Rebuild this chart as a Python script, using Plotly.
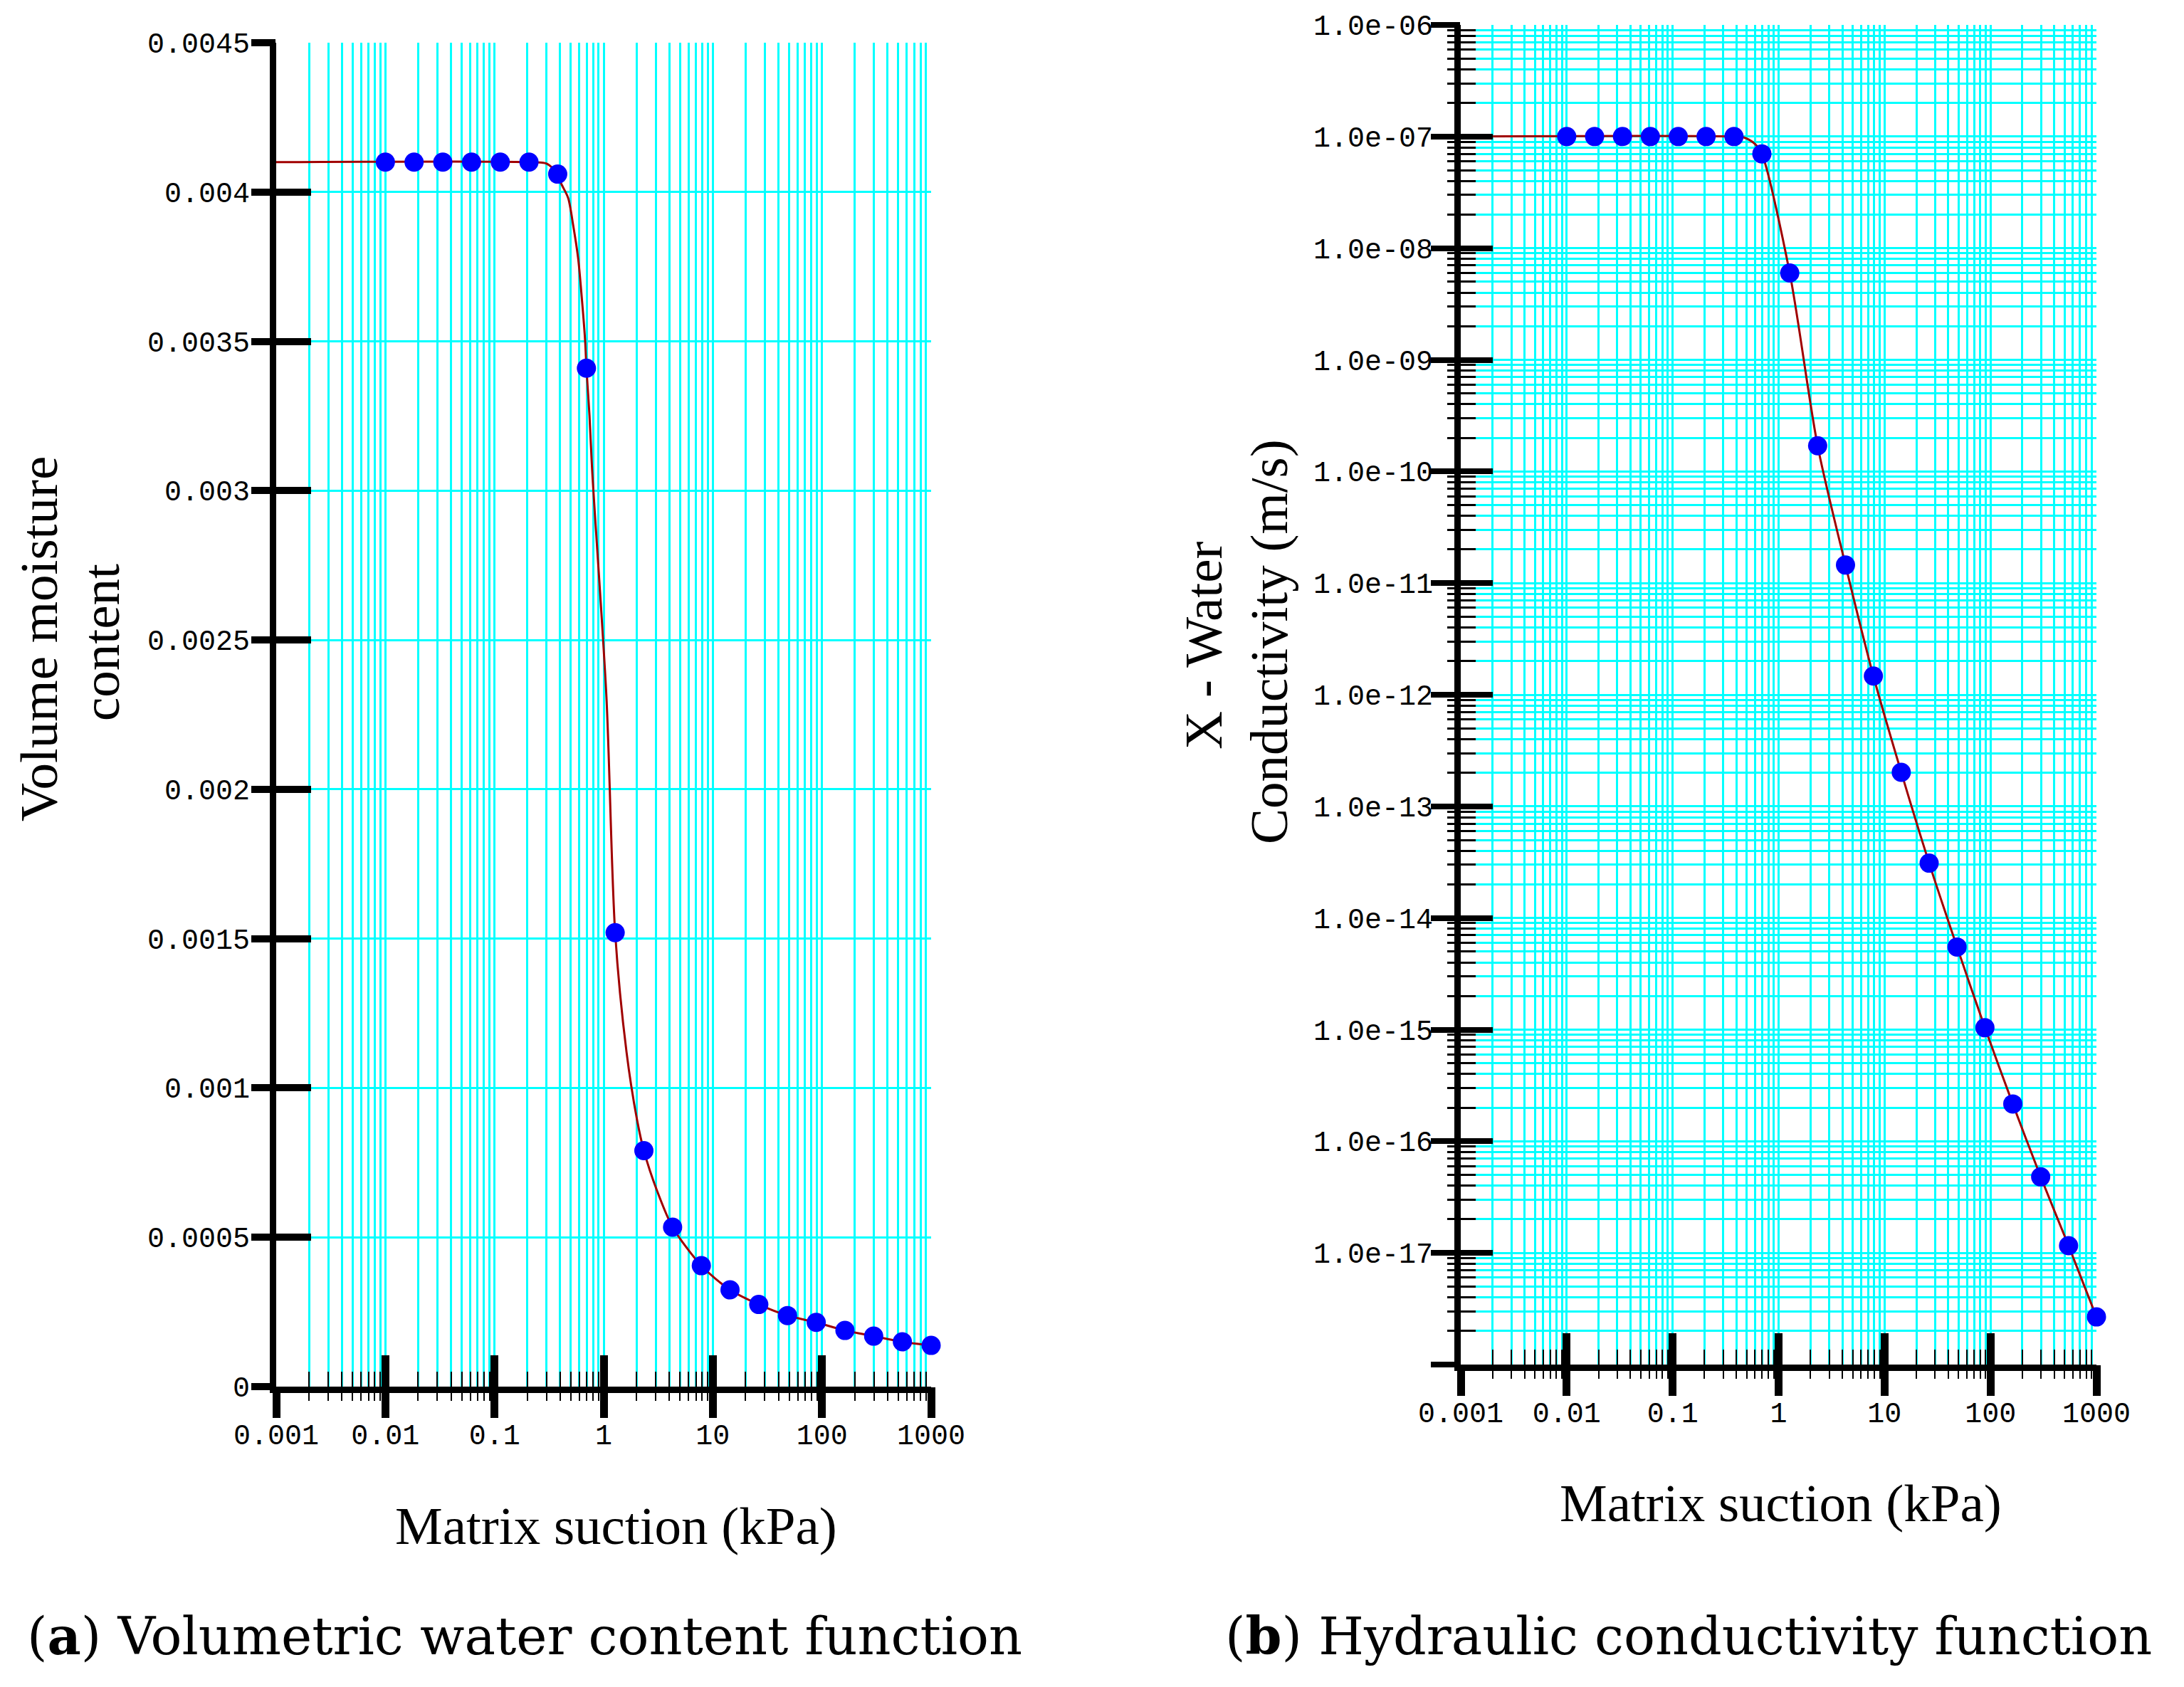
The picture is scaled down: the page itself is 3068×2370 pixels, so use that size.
import plotly.graph_objects as go

# ---------------- data ----------------
suction = [0.01, 0.01833, 0.0336, 0.06158, 0.1129, 0.2069, 0.3793, 0.6952, 1.274, 2.336,
           4.281, 7.848, 14.38, 26.37, 48.33, 88.59, 162.4, 297.6, 545.6, 1000]

vwc = [0.0041, 0.0041, 0.0041, 0.0041, 0.0041, 0.0041, 0.00406, 0.00341, 0.00152, 0.00079,
       0.000534, 0.000405, 0.000324, 0.000275, 0.000238, 0.000215, 0.000188, 0.000169, 0.00015, 0.000138]

conductivity = [1.0e-7, 1.0e-7, 1.0e-7, 1.0e-7, 1.0e-7, 1.0e-7, 1.0e-7, 7.0e-8, 6.0e-9, 1.7e-10,
                1.45e-11, 1.47e-12, 2.02e-13, 3.1e-14, 5.5e-15, 1.04e-15, 2.16e-16, 4.8e-17, 1.16e-17, 2.67e-18]

# fitted curves
vwc_curve_x = [0.001, 0.2069, 0.3, 0.3793, 0.406, 0.473, 0.525, 0.583, 0.629, 0.677, 0.6952, 0.742,
               0.787, 1.06, 1.274, 1.62, 2.03, 2.336, 3.09, 4.281, 7.848, 14.38, 26.37,
               48.33, 88.59, 162.4, 297.6, 545.6, 1000]
vwc_curve_y = [0.0041, 0.0041, 0.004095, 0.00406, 0.00403, 0.00398, 0.00389, 0.00378, 0.00365, 0.0035,
               0.00341, 0.00325, 0.00306, 0.00231, 0.00152, 0.00112, 0.00089, 0.00079, 0.000655,
               0.000534, 0.000405, 0.000324, 0.000275, 0.000238, 0.000215, 0.000188, 0.000169, 0.00015, 0.000138]

cond_curve_x = [0.001, 0.3793, 0.473, 0.597, 0.6952, 1.274, 2.336, 4.281, 7.848, 14.38, 26.37,
                48.33, 88.59, 162.4, 297.6, 545.6, 1000]
cond_curve_y = [1.0e-7, 1.0e-7, 9.8e-8, 8.6e-8, 7.0e-8, 6.0e-9, 1.7e-10, 1.45e-11, 1.47e-12, 2.02e-13,
                3.1e-14, 5.5e-15, 1.04e-15, 2.16e-16, 4.8e-17, 1.16e-17, 2.67e-18]

# tick labels
x_tick_vals = [0.001, 0.01, 0.1, 1, 10, 100, 1000]
x_tick_labels = ["0.001", "0.01", "0.1", "1", "10", "100", "1000"]
vwc_tick_vals = [0, 0.0005, 0.001, 0.0015, 0.002, 0.0025, 0.003, 0.0035, 0.004, 0.0045]
vwc_tick_labels = ["0", "0.0005", "0.001", "0.0015", "0.002", "0.0025", "0.003", "0.0035", "0.004", "0.0045"]
cond_tick_vals = [1e-17, 1e-16, 1e-15, 1e-14, 1e-13, 1e-12, 1e-11, 1e-10, 1e-9, 1e-8, 1e-7, 1e-6]
cond_tick_labels = ["1.0e-17", "1.0e-16", "1.0e-15", "1.0e-14", "1.0e-13", "1.0e-12", "1.0e-11",
                    "1.0e-10", "1.0e-09", "1.0e-08", "1.0e-07", "1.0e-06"]

# ---------------- styling ----------------
OFF = 8                      # default page margin of the html body
FW, FH = 3068 - 2 * OFF, 2370 - 2 * OFF


def px(x):
    return (x - OFF) / FW


def py(y):
    return 1 - (y - OFF) / FH


GRID = "#00FFFF"
LINE_RED = "#A00000"
DOT_BLUE = "#0000FF"
TICKFONT = dict(family="Liberation Mono", size=40, color="black")
TITLEFONT = dict(family="Liberation Serif", size=75, color="black")
CAPFONT = dict(family="DejaVu Serif", size=73, color="black")

LEFT_X = [px(388), px(1308)]
LEFT_Y = [py(1948), py(60)]
RIGHT_X = [px(2052), px(2945)]
RIGHT_Y = [py(1917), py(35)]

fig = go.Figure()

fig.add_trace(go.Scatter(x=vwc_curve_x, y=vwc_curve_y, mode="lines",
                         line=dict(color=LINE_RED, width=3, shape="spline", smoothing=0.8),
                         xaxis="x", yaxis="y", showlegend=False, cliponaxis=False))
fig.add_trace(go.Scatter(x=suction, y=vwc, mode="markers",
                         marker=dict(color=DOT_BLUE, size=27, line=dict(width=0)),
                         xaxis="x", yaxis="y", showlegend=False, cliponaxis=False))
fig.add_trace(go.Scatter(x=cond_curve_x, y=cond_curve_y, mode="lines",
                         line=dict(color=LINE_RED, width=3, shape="spline", smoothing=0.8),
                         xaxis="x2", yaxis="y2", showlegend=False, cliponaxis=False))
fig.add_trace(go.Scatter(x=suction, y=conductivity, mode="markers",
                         marker=dict(color=DOT_BLUE, size=27, line=dict(width=0)),
                         xaxis="x2", yaxis="y2", showlegend=False, cliponaxis=False))

# invisible carriers so that the overlaid tick axes get drawn
for xa, ya, yy in [("x3", "y3", vwc), ("x5", "y5", vwc),
                   ("x4", "y4", conductivity), ("x6", "y6", conductivity)]:
    fig.add_trace(go.Scatter(x=suction, y=yy, mode="markers", marker=dict(opacity=0, size=1),
                             xaxis=xa, yaxis=ya, showlegend=False, hoverinfo="skip"))


def main_log_x(domain, anchor):
    return dict(type="log", range=[-3, 3], domain=domain, anchor=anchor,
                tickmode="linear", tick0=0, dtick=1,
                ticks="inside", ticklen=44, tickwidth=11, tickcolor="black",
                showticklabels=False, automargin=False,
                showgrid=True, gridcolor=GRID, gridwidth=3,
                minor=dict(dtick="D1", ticks="inside", ticklen=21, tickwidth=2, tickcolor="black",
                           showgrid=True, gridcolor=GRID, gridwidth=3),
                showline=True, linecolor="black", linewidth=9, zeroline=False)


def label_log_x(over, anchor):
    return dict(type="log", range=[-3, 3], overlaying=over, anchor=anchor,
                tickmode="array", tickvals=x_tick_vals, ticktext=x_tick_labels,
                ticks="outside", ticklen=32, tickwidth=3, tickcolor="black", automargin=False,
                tickfont=TICKFONT, showgrid=False, showline=False, zeroline=False)


def minor_log_x(over, anchor):
    return dict(type="log", range=[-3, 3], overlaying=over, anchor=anchor,
                tickmode="linear", tick0=0, dtick=1,
                ticks="outside", ticklen=43, tickwidth=11, tickcolor="black", automargin=False,
                minor=dict(dtick="D1", ticks="outside", ticklen=19, tickwidth=2, tickcolor="black",
                           showgrid=False),
                showticklabels=False, showgrid=False, showline=False, zeroline=False)


layout_axes = dict(
    xaxis=main_log_x(LEFT_X, "y"),
    xaxis3=label_log_x("x", "y"),
    xaxis5=minor_log_x("x", "y"),
    xaxis2=main_log_x(RIGHT_X, "y2"),
    xaxis4=label_log_x("x2", "y2"),
    xaxis6=minor_log_x("x2", "y2"),
    yaxis=dict(range=[0, 0.0045], domain=LEFT_Y, anchor="x",
               tickmode="linear", tick0=0, dtick=0.0005,
               ticks="inside", ticklen=49, tickwidth=10, tickcolor="black", automargin=False,
               showticklabels=False, showgrid=True, gridcolor=GRID, gridwidth=3,
               showline=True, linecolor="black", linewidth=9, zeroline=False),
    yaxis3=dict(range=[0, 0.0045], overlaying="y", anchor="x",
                tickmode="array", tickvals=vwc_tick_vals, ticktext=vwc_tick_labels,
                ticks="outside", ticklen=28, tickwidth=3, tickcolor="black", automargin=False,
                tickfont=TICKFONT, showgrid=False, showline=False, zeroline=False),
    yaxis5=dict(range=[0, 0.0045], overlaying="y", anchor="x",
                tickmode="linear", tick0=0, dtick=0.0005,
                ticks="outside", ticklen=34, tickwidth=10, tickcolor="black", automargin=False,
                showticklabels=False, showgrid=False, showline=False, zeroline=False),
    yaxis2=dict(type="log", range=[-18, -6], domain=RIGHT_Y, anchor="x2",
                tickmode="linear", tick0=0, dtick=1,
                ticks="inside", ticklen=45, tickwidth=8, tickcolor="black", automargin=False,
                showticklabels=False, showgrid=True, gridcolor=GRID, gridwidth=3,
                minor=dict(dtick="D1", ticks="inside", ticklen=21, tickwidth=3, tickcolor="black",
                           showgrid=True, gridcolor=GRID, gridwidth=3),
                showline=True, linecolor="black", linewidth=9, zeroline=False),
    yaxis4=dict(type="log", range=[-18, -6], overlaying="y2", anchor="x2",
                tickmode="array", tickvals=cond_tick_vals, ticktext=cond_tick_labels,
                ticks="outside", ticklen=30, tickwidth=3, tickcolor="black", automargin=False,
                tickfont=TICKFONT, showgrid=False, showline=False, zeroline=False),
    yaxis6=dict(type="log", range=[-18, -6], overlaying="y2", anchor="x2",
                tickmode="linear", tick0=0, dtick=1,
                ticks="outside", ticklen=41, tickwidth=8, tickcolor="black", automargin=False,
                minor=dict(dtick="D1", ticks="outside", ticklen=18, tickwidth=3, tickcolor="black",
                           showgrid=False),
                showticklabels=False, showgrid=False, showline=False, zeroline=False),
)

annotations = [
    dict(text="Volume moisture", x=px(55), y=py(898), textangle=-90, font=TITLEFONT),
    dict(text="content", x=px(142), y=py(903), textangle=-90, font=TITLEFONT),
    dict(text="X - Water", x=px(1690), y=py(907), textangle=-90, font=TITLEFONT),
    dict(text="Conductivity (m/s)", x=px(1782), y=py(902), textangle=-90, font=TITLEFONT),
    dict(text="Matrix suction (kPa)", x=px(865), y=py(2143), font=TITLEFONT),
    dict(text="Matrix suction (kPa)", x=px(2501), y=py(2111), font=TITLEFONT),
    dict(text="(<b>a</b>) Volumetric water content function", x=px(737), y=py(2298),
         font=CAPFONT),
    dict(text="(<b>b</b>) Hydraulic conductivity function", x=px(2372), y=py(2298),
         font=CAPFONT),
]
for a in annotations:
    a.update(xref="paper", yref="paper", showarrow=False, xanchor="center", yanchor="middle")

fig.update_layout(
    width=FW, height=FH, autosize=False,
    margin=dict(l=0, r=0, t=0, b=0, pad=0, autoexpand=False),
    paper_bgcolor="white", plot_bgcolor="white",
    showlegend=False,
    annotations=annotations,
    **layout_axes,
)

fig.write_html("out.html")
